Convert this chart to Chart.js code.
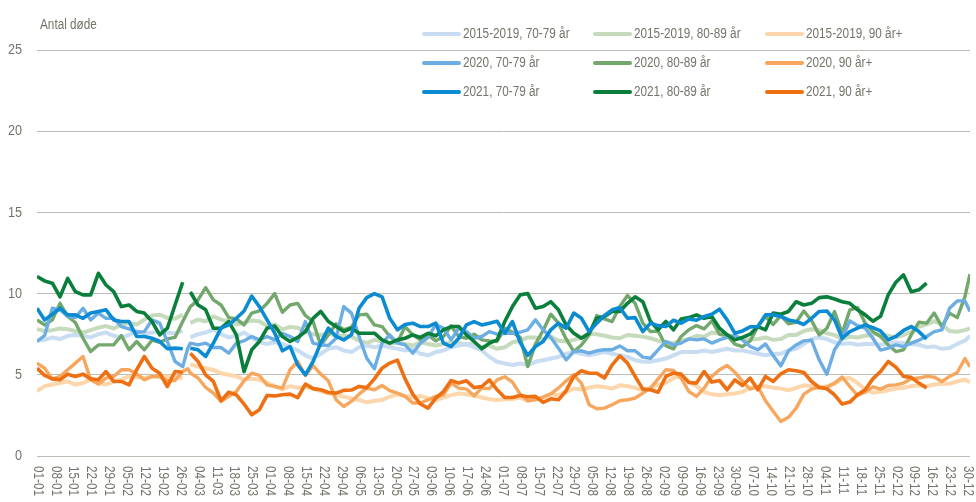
<!DOCTYPE html>
<html><head><meta charset="utf-8">
<script src="https://cdn.jsdelivr.net/npm/chart.js@4"></script>
<style>html,body{margin:0;padding:0;background:#fff}#wrap{position:relative;width:976px;height:502px}</style>
</head><body><div id="wrap"><canvas id="c" width="976" height="502"></canvas></div>
<script>
// ---- categories: sample days (day index of the year, 01-01 = 0, leap year incl. 29-02 = 59)
const sampleDays = [0,3,6,9,12,15,18,21,24,27,30,33,36,39,42,45,48,51,54,57,59,
60,63,66,69,72,75,78,81,84,87,90,93,
96,99,102,105,108,111,114,117,120,123,126,129,132,135,138,141,144,147,150,153,156,159,162,165,168,171,174,177,180,183,
186,189,192,195,198,201,204,207,210,213,216,219,222,225,228,231,234,237,240,243,246,249,252,255,258,261,264,267,270,273,276,
279,282,285,288,291,294,297,300,303,306,309,312,315,318,321,324,327,330,333,336,339,342,345,348,351,354,357,360,363,365];

// ---- x tick labels (every 7th day)
const tickLabels = ['01-01','08-01','15-01','22-01','29-01','05-02','12-02','19-02','26-02','04-03','11-03','18-03','25-03',
'01-04','08-04','15-04','22-04','29-04','06-05','13-05','20-05','27-05','03-06','10-06','17-06','24-06','01-07','08-07',
'15-07','22-07','29-07','05-08','12-08','19-08','26-08','02-09','09-09','16-09','23-09','30-09','07-10','14-10','21-10',
'28-10','04-11','11-11','18-11','25-11','02-12','09-12','16-12','23-12','30-12'];

const seriesNames = ['2015-2019, 70-79 år','2015-2019, 80-89 år','2015-2019, 90 år+',
'2020, 70-79 år','2020, 80-89 år','2020, 90 år+','2021, 70-79 år','2021, 80-89 år','2021, 90 år+'];

// ---- series values (aligned with sampleDays)
const avg_70_79 = [7.1,7.15,7.3,7.2,7.4,7.45,7.4,7.3,7.5,7.6,7.4,7.3,7.45,7.7,7.55,7.6,7.65,7.6,7.55,7.7,null,
7.3,7.5,7.6,7.8,7.5,7.3,7.4,7.6,7.3,7.0,6.9,7.0,
6.9,6.7,6.5,6.2,6.0,6.3,6.6,6.7,6.5,6.4,6.7,6.8,6.7,6.8,6.7,6.6,6.5,6.6,6.3,6.2,6.4,6.5,6.7,6.8,6.9,6.7,6.5,6.1,5.8,5.7,
5.6,5.7,5.6,5.8,5.9,6.0,6.1,6.3,6.4,6.3,6.2,6.3,6.4,6.3,6.2,6.1,5.9,5.8,5.8,5.9,6.0,6.2,6.4,6.4,6.4,6.5,6.4,6.5,6.6,6.5,6.5,
6.4,6.3,6.2,6.3,6.3,6.5,6.6,6.9,7.2,7.3,7.2,7.0,6.9,6.95,6.85,6.9,6.9,6.85,6.9,7.0,6.95,6.9,6.85,6.7,6.75,6.6,6.65,6.9,7.1,7.4];
const avg_80_89 = [7.8,7.7,7.75,7.85,7.8,7.7,7.6,7.75,7.9,8.0,7.85,8.1,8.2,8.1,8.4,8.65,8.7,8.5,8.45,8.7,null,
8.2,8.4,8.3,8.6,8.4,8.3,8.1,8.2,8.35,8.3,8.0,8.1,
7.8,7.95,7.9,7.65,7.5,7.45,7.55,7.4,7.4,7.35,7.1,6.95,7.15,7.05,6.9,7.0,6.9,6.8,7.0,6.9,6.8,6.9,7.0,6.95,6.85,6.95,6.7,6.8,6.6,6.7,
7.0,7.1,7.3,7.3,7.2,7.35,7.1,7.05,7.15,7.3,7.55,7.5,7.4,7.3,7.25,7.45,7.4,7.35,7.25,7.1,7.0,6.95,7.1,7.2,7.4,7.35,7.6,7.55,7.45,7.35,7.25,
7.15,7.2,7.3,7.15,7.2,7.45,7.45,7.7,7.8,7.75,7.55,7.45,7.2,7.35,7.3,7.4,7.5,7.5,7.4,7.3,7.45,7.65,7.95,8.1,8.3,8.1,7.7,7.65,7.75,7.85];
const avg_90 = [4.0,4.3,4.4,4.5,4.6,4.4,4.5,4.7,4.5,4.4,4.6,4.7,4.9,4.85,4.8,4.9,4.85,4.9,4.85,4.8,null,
5.65,5.5,5.4,5.3,5.1,5.0,4.9,4.7,4.75,4.7,4.5,4.3,
4.1,4.3,4.2,4.25,4.15,4.0,3.85,3.8,3.65,3.55,3.45,3.3,3.4,3.45,3.65,3.8,3.7,3.6,3.7,3.55,3.45,3.6,3.75,3.85,3.8,3.7,3.6,3.5,3.45,3.5,
3.5,3.6,3.4,3.5,3.6,3.8,3.75,3.95,4.15,4.1,4.2,4.3,4.25,4.15,4.35,4.3,4.2,4.05,4.2,4.4,4.5,4.8,4.9,4.6,4.3,3.95,3.8,3.75,3.8,3.85,3.95,
4.2,4.25,4.3,4.2,4.15,4.05,4.2,4.35,4.3,4.2,4.3,4.45,4.75,4.8,4.5,4.1,3.9,3.95,4.05,4.15,4.2,4.3,4.35,4.3,4.4,4.45,4.45,4.6,4.7,4.55];

const y2020_70_79 = [7.05,7.42,9.1,9.0,8.59,8.52,9.1,8.38,8.8,8.48,8.48,7.97,7.83,7.62,7.66,8.38,8.18,7.05,5.82,5.5,6.64,
6.95,6.84,6.95,6.68,6.68,6.33,6.95,7.09,7.36,7.15,7.36,7.15,
7.56,7.36,7.05,8.28,6.95,6.84,6.8,7.25,9.2,8.8,7.36,6.02,5.37,6.95,7.46,6.95,6.84,6.33,6.95,7.3,8.1,7.87,7.15,7.87,7.66,7.25,7.36,7.66,7.5,7.56,
7.56,7.62,7.77,8.38,7.77,7.3,6.64,5.92,6.43,6.48,6.33,6.48,6.54,6.54,6.78,6.48,6.48,6.09,6.02,6.54,7.05,6.84,6.95,7.21,7.15,7.21,6.95,7.15,7.3,7.42,7.15,
6.74,6.54,6.9,6.19,5.55,6.48,6.84,7.09,7.13,5.92,5.04,6.54,7.25,8.32,8.03,7.87,7.25,6.52,6.64,6.84,6.74,6.95,7.13,7.36,7.66,7.77,9.1,9.55,9.55,8.9];
const y2020_80_89 = [8.38,8.07,8.38,9.4,8.59,8.22,7.25,6.43,6.84,6.84,6.84,7.42,6.54,7.05,6.54,7.13,7.0,7.21,7.3,8.28,8.9,
9.2,9.61,10.37,9.61,9.3,8.52,8.44,8.07,8.8,8.93,9.4,10.0,
8.85,9.3,9.4,8.65,8.28,6.8,7.46,8.14,7.77,7.93,8.69,8.73,8.07,7.97,7.36,6.99,7.97,7.46,7.15,7.46,7.09,7.36,8.01,7.36,7.25,7.5,7.15,7.09,7.05,7.87,
7.62,7.3,5.51,6.89,7.73,8.73,8.18,7.21,6.43,6.84,7.46,8.65,8.44,8.28,9.2,9.88,9.4,8.18,7.66,7.7,6.8,6.6,7.36,7.77,8.03,7.83,8.32,7.5,7.42,6.89,6.74,
7.09,7.97,8.59,8.1,8.65,8.14,8.24,8.93,8.34,7.46,7.87,8.9,7.56,9.0,9.14,8.18,7.66,7.36,6.84,6.43,6.54,7.46,8.24,8.18,8.8,7.97,8.8,8.52,9.8,11.2];
const y2020_90 = [5.72,5.41,4.73,4.9,5.31,5.72,6.13,4.69,4.43,4.8,4.9,5.31,5.31,5.06,4.69,4.9,4.9,4.63,4.65,5.2,5.37,
5.1,4.8,4.22,3.87,3.36,3.67,3.97,4.63,5.1,4.96,4.38,4.28,
4.18,5.31,5.82,4.96,5.57,5.04,4.63,3.46,3.05,3.36,3.81,4.18,4.08,4.34,4.02,3.87,3.67,3.26,3.26,3.46,3.67,3.77,4.49,4.18,4.12,3.71,4.18,4.15,4.69,4.88,
4.55,3.81,3.4,3.46,3.63,3.83,4.18,4.63,5.0,4.47,3.16,2.91,2.95,3.16,3.4,3.46,3.57,3.87,4.18,4.75,5.31,5.27,4.8,3.97,3.67,4.18,4.9,5.31,5.57,5.16,4.59,
4.12,4.28,3.4,2.75,2.13,2.38,2.95,3.81,4.12,4.24,4.22,4.49,4.86,4.28,3.73,3.93,4.26,4.12,4.34,4.38,4.49,4.75,4.8,4.9,4.86,4.59,4.9,5.14,6.0,5.5];

const y2021_70_79 = [9.1,8.38,8.73,9.1,8.69,8.69,8.48,8.8,8.9,9.0,8.38,8.28,8.28,7.36,7.36,7.25,7.05,6.6,6.64,6.6,null,
6.64,6.54,6.13,6.95,7.87,8.07,8.48,8.93,9.85,9.2,8.38,7.56,
6.48,6.74,5.61,5.0,5.82,6.95,7.87,7.36,7.15,7.46,9.1,9.75,10.0,9.8,8.48,7.77,8.1,8.18,7.97,7.97,8.18,6.95,6.74,7.25,8.07,8.28,8.07,8.18,8.3,7.56,
8.28,7.0,6.2,6.74,7.05,7.77,8.18,7.87,8.8,8.48,7.66,8.18,8.65,9.0,9.14,8.48,8.52,7.66,8.18,8.03,7.97,8.36,8.18,8.44,8.36,8.59,8.73,9.04,8.38,7.56,7.7,
7.95,7.97,8.69,8.69,8.59,8.38,8.28,8.1,8.48,8.9,8.93,8.38,7.25,7.66,7.87,8.07,7.9,7.7,7.15,7.36,7.73,7.97,7.66,7.2];
const y2021_80_89 = [11.05,10.78,10.64,9.8,10.94,10.12,9.92,9.92,11.25,10.53,10.12,9.2,9.3,8.9,8.8,8.28,7.46,7.87,9.3,10.7,null,
10.1,9.3,9.0,7.87,7.87,8.28,7.46,5.2,6.54,7.05,7.87,8.0,
7.36,7.05,7.3,7.66,8.48,8.9,8.28,7.97,7.66,7.87,7.56,7.56,7.56,7.15,6.95,7.15,7.25,7.46,7.3,7.56,7.4,7.77,7.97,7.97,7.46,7.05,6.6,6.95,7.15,8.28,
9.2,9.92,10.0,9.1,9.2,9.5,9.0,8.07,7.56,7.25,7.56,8.48,8.59,8.9,8.9,9.4,9.8,9.5,8.28,7.77,8.28,7.77,8.44,8.52,8.69,8.48,8.59,7.87,7.46,7.15,7.3,
7.5,7.97,7.77,8.8,8.73,8.9,9.5,9.3,9.4,9.75,9.8,9.67,9.5,9.4,9.0,8.69,8.3,8.6,9.92,10.7,11.15,10.12,10.23,10.64];
const y2021_90 = [5.41,4.96,4.75,4.69,5.04,4.9,5.04,4.75,4.69,5.2,4.59,4.59,4.38,5.31,6.13,5.41,5.1,4.28,5.2,5.16,null,
6.33,5.82,5.0,4.59,3.4,3.93,3.77,3.2,2.54,2.85,3.73,3.7,
3.77,3.81,3.6,4.43,4.15,4.08,3.91,3.87,4.04,4.06,4.28,4.21,4.75,5.41,5.72,5.9,4.75,3.81,3.2,2.95,3.56,3.97,4.65,4.49,4.63,4.21,4.28,4.69,4.08,3.6,
3.6,3.73,3.65,3.67,3.3,3.52,3.46,4.02,4.9,5.25,5.1,5.1,4.8,5.61,6.17,5.72,4.9,4.12,4.08,3.93,4.9,5.1,5.04,4.53,4.49,5.2,4.55,4.65,4.08,4.69,4.34,
4.8,4.08,4.9,4.59,5.06,5.31,5.25,5.14,4.59,4.22,4.14,3.77,3.2,3.32,3.77,4.08,4.75,5.2,5.82,5.47,4.9,4.84,4.49,4.18];

const yTicks = [0,5,10,15,20,25];
const colors = ['#c9ddf2','#c6dabc','#fdd6ab','#6caee4','#73a86c','#f7a65d','#0b8bd2','#0a7f3c','#ee7012'];

// ---- font handling
function hasFont(name){const c=document.createElement('canvas').getContext('2d');const s='0123456789-år Antal døde';
  c.font='20px monospace';const a=c.measureText(s).width;c.font='20px "'+name+'", monospace';return Math.abs(c.measureText(s).width-a)>0.5;}
const NARROW = hasFont('Liberation Sans Narrow');
const FAM = NARROW ? '"Liberation Sans Narrow", "Liberation Sans", Arial, sans-serif' : '"Liberation Sans", Arial, sans-serif';
const SX = NARROW ? 1 : 0.84;
const TXT = '#74746a';
function txt(ctx,s,x,y,size,align,rot){
  ctx.save();ctx.translate(x,y);if(rot)ctx.rotate(rot);ctx.scale(SX,1);
  ctx.font=size+'px '+FAM;ctx.fillStyle=TXT;ctx.textAlign=align||'left';ctx.textBaseline='middle';
  ctx.fillText(s,0,0);ctx.restore();
}

const allSeries = [avg_70_79,avg_80_89,avg_90,y2020_70_79,y2020_80_89,y2020_90,y2021_70_79,y2021_80_89,y2021_90];
const widths = [4,4,4,3.4,3.4,3.4,3.6,3.6,3.6];
const orders = [2,2,2,1,1,1,0,0,0];
const datasets = allSeries.map((arr,k)=>({
  label: seriesNames[k],
  data: arr.map((v,i)=>({x:sampleDays[i], y:v})),
  borderColor: colors[k], backgroundColor: colors[k],
  borderWidth: widths[k], pointRadius: 0, tension: 0, spanGaps: false,
  borderJoinStyle: 'round', borderCapStyle: 'butt', order: orders[k], fill: false
}));

const drawPlugin = {
  id: 'extras',
  afterDraw(chart){
    const ctx = chart.ctx, xs = chart.scales.x, ys = chart.scales.y;
    yTicks.forEach(v=>txt(ctx,String(v),22,ys.getPixelForValue(v),15,'right'));
    txt(ctx,'Antal døde',40,25,14,'left');
    tickLabels.forEach((s,i)=>txt(ctx,s,xs.getPixelForValue(i*7)+0.5,466,14,'left',Math.PI/2));
    const colX = [423,594,766], rowY = [34,63,92];
    chart.data.datasets.forEach((ds,k)=>{
      const r = Math.floor(k/3), c = k%3;
      const x0 = colX[c], y0 = rowY[r];
      ctx.save();ctx.strokeStyle=ds.borderColor;ctx.lineWidth=4;ctx.lineCap='round';
      ctx.beginPath();ctx.moveTo(x0+1,y0);ctx.lineTo(x0+36,y0);ctx.stroke();ctx.restore();
      txt(ctx,ds.label,x0+40,y0,14,'left');
    });
  }
};

new Chart(document.getElementById('c'),{
  type:'line',
  data:{datasets},
  options:{
    responsive:false, animation:false, devicePixelRatio:1,
    layout:{padding:{top:50,right:6,left:0,bottom:0}},
    plugins:{legend:{display:false},tooltip:{enabled:false}},
    scales:{
      x:{type:'linear',min:0,max:365,ticks:{display:false},grid:{display:false},border:{display:false},
         afterFit(s){s.height=46;}},
      y:{min:0,max:25,ticks:{stepSize:5,display:false},grid:{color:'#bcbcb2',lineWidth:1,drawTicks:false},border:{display:false},
         afterFit(s){s.width=37;}}
    }
  },
  plugins:[drawPlugin]
});
</script></body></html>
